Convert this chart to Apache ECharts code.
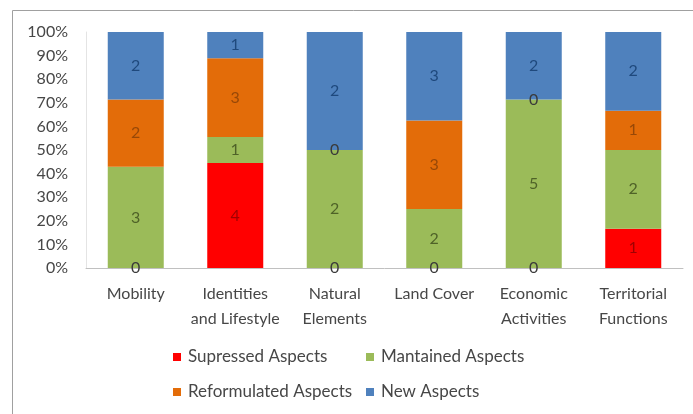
<!DOCTYPE html>
<html><head><meta charset="utf-8">
<script src="https://cdn.jsdelivr.net/npm/echarts@6/dist/echarts.min.js"></script>
<style>html,body{margin:0;padding:0;background:#fff}#c{width:693px;height:414px}</style>
</head><body><div id="c"></div>
<script>
const categories = ['Mobility', 'Identities\nand Lifestyle', 'Natural\nElements', 'Land Cover', 'Economic\nActivities', 'Territorial\nFunctions'];
const supressed = [0, 4, 0, 0, 0, 1];
const mantained = [3, 1, 2, 2, 5, 2];
const reformulated = [2, 3, 0, 3, 0, 1];
const newAspects = [2, 1, 2, 3, 2, 2];
const yTicks = [0, 10, 20, 30, 40, 50, 60, 70, 80, 90, 100];

const totals = categories.map((_, i) => supressed[i] + mantained[i] + reformulated[i] + newAspects[i]);
const pct = arr => arr.map((v, i) => v / totals[i] * 100);
const FONT = 'Lato';
const TXT = '#474747';
function mk(name, arr, color, lblColor) {
  return {
    name, type: 'bar', stack: 'a', barWidth: 56,
    data: pct(arr).map((p, i) => ({
      value: p, count: arr[i],
      label: arr[i] === 0 ? { color: '#3a3a3a' } : undefined
    })),
    itemStyle: { color },
    label: {
      show: true, position: 'inside', color: lblColor, fontFamily: FONT, fontSize: 16,
      formatter: p => String(p.data.count)
    }
  };
}
function leg(name, left, top) {
  return { data: [name], left, top, itemWidth: 8, itemHeight: 8, icon: 'rect', padding: 0,
    textStyle: { fontFamily: FONT, fontSize: 17, color: TXT, lineHeight: 18, padding: [0, 0, 0, 2] } };
}
const chart = echarts.init(document.getElementById('c'));
chart.setOption({
  animation: false,
  graphic: [{ type: 'rect', shape: { x: 12.5, y: 10.5, width: 700, height: 420 }, style: { fill: 'none', stroke: '#a0a0a0', lineWidth: 1 } }],
  grid: { left: 86, right: 10, top: 32, bottom: 146 },
  legend: [
    leg('Supressed Aspects', 173, 348),
    leg('Mantained Aspects', 366, 348),
    leg('Reformulated Aspects', 173, 383),
    leg('New Aspects', 366, 383)
  ],
  xAxis: {
    type: 'category', data: categories,
    axisLine: { lineStyle: { color: '#c0c0c0' } }, axisTick: { show: false },
    axisLabel: { fontFamily: FONT, fontSize: 16, color: TXT, lineHeight: 25, margin: 13, interval: 0 }
  },
  yAxis: {
    type: 'value', min: 0, max: 100, interval: 10,
    axisLine: { show: true, lineStyle: { color: '#e4e4e4' } }, axisTick: { show: false }, splitLine: { show: false },
    axisLabel: { fontFamily: FONT, fontSize: 16, color: TXT, margin: 18, formatter: v => yTicks.includes(v) ? v + '%' : '' }
  },
  series: [
    mk('Supressed Aspects', supressed, '#FF0000', '#a00000'),
    mk('Mantained Aspects', mantained, '#9BBB59', '#4F6228'),
    mk('Reformulated Aspects', reformulated, '#E36C09', '#984807'),
    mk('New Aspects', newAspects, '#4F81BD', '#1F497D')
  ]
});
</script></body></html>
